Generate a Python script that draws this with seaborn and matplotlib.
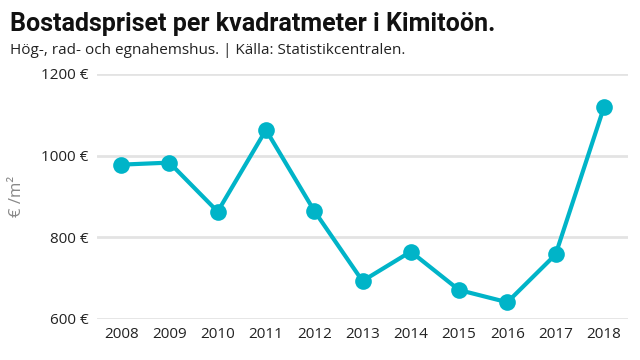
import pandas as pd
import seaborn as sns
import matplotlib.pyplot as plt
from matplotlib import font_manager

# Data
years = [2008, 2009, 2010, 2011, 2012, 2013, 2014, 2015, 2016, 2017, 2018]
prices = [978, 983, 863, 1063, 865, 693, 765, 671, 641, 758, 1118]
yticks = [600, 800, 1000, 1200]

df = pd.DataFrame({'year': years, 'price': prices})

sns.set_theme(style='white')
names = {f.name for f in font_manager.fontManager.ttflist}
body_font = 'Open Sans' if 'Open Sans' in names else 'DejaVu Sans'
title_font = 'Liberation Sans Narrow' if 'Liberation Sans Narrow' in names else 'Roboto'
plt.rcParams['font.family'] = [body_font, 'DejaVu Sans']

fig = plt.figure(figsize=(6.4, 3.6), dpi=100)
ax = fig.add_axes([97 / 640, 1 - 319 / 360, 531 / 640, 245 / 360])

sns.lineplot(data=df, x='year', y='price', ax=ax, color='#00b4c8',
             linewidth=3, marker='o', markersize=12, markeredgewidth=0)

ax.set_xlim(2007.5, 2018.5)
ax.set_ylim(600, 1200)
ax.set_xticks(years)
ax.set_xticklabels([str(y) for y in years], fontsize=11, color='#222222')
ax.set_yticks(yticks)
ax.set_yticklabels([f'{v} €' for v in yticks], fontsize=11, color='#222222')
ax.tick_params(axis='both', length=0, pad=6)
ax.yaxis.grid(True, color='#e3e3e3', linewidth=2)
ax.set_axisbelow(True)
for s in ax.spines.values():
    s.set_visible(False)
ax.set_xlabel('')
ax.set_ylabel('€ /m²', fontsize=12, color='#888888')
ax.yaxis.set_label_coords((25 - 97) / 531, (319 - 196) / 245)

fig.text(10 / 640, 1 - 24 / 360, 'Bostadspriset per kvadratmeter i Kimitoön.',
         fontsize=18, fontweight='bold', family=[title_font, 'DejaVu Sans'],
         va='center', ha='left', color='#111111')
fig.text(10 / 640, 1 - 50 / 360, 'Hög-, rad- och egnahemshus. | Källa: Statistikcentralen.',
         fontsize=11, va='center', ha='left', color='#222222')

fig.savefig('out.png', dpi=100)
